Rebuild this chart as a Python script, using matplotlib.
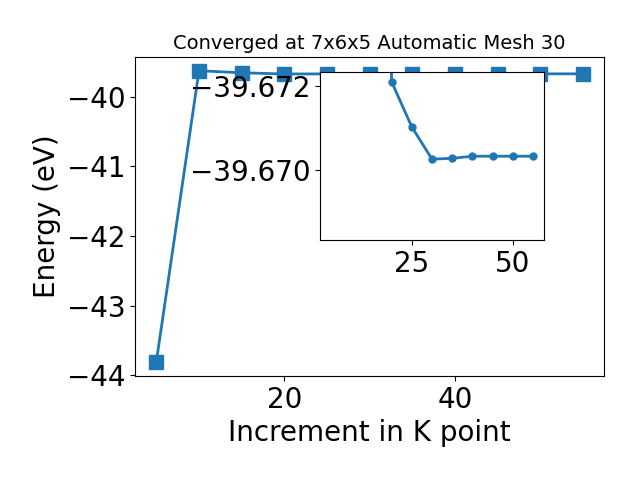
import matplotlib
matplotlib.use("Agg")
import matplotlib.pyplot as plt

# k-point increments and total energies (main panel)
kpoints = [5, 10, 15, 20, 25, 30, 35, 40, 45, 50, 55]
energy = [-43.80, -39.625, -39.655, -39.672, -39.671, -39.670,
          -39.670, -39.670, -39.670, -39.670, -39.670]

# values (first one lies off the top)
inset_kpoints = [15, 20, 25, 30, 35, 40, 45, 50, 55]
inset_energy = [-39.70, -39.67211, -39.67103, -39.67026, -39.67028,
                -39.67033, -39.67033, -39.67033, -39.67033]

# zoom window for the inset (kept as drawn: top value is more negative)
inset_ylim = (-39.66833, -39.67234)
inset_xlim = (2.3, 57.7)

title = "Converged at 7x6x5 Automatic Mesh 30"

fig = plt.figure(figsize=(6.4, 4.8), dpi=100)
ax = fig.add_axes([0.211, 0.217, 0.733, 0.664])
ax.plot(kpoints, energy, marker="s", markersize=10, linewidth=2, color="#1f77b4")
ax.set_ylim(-44.005, -39.43)
ax.set_xlabel("Increment in K point", fontsize=20)
ax.set_ylabel("Energy (eV)", fontsize=20)
ax.set_title(title, fontsize=14)
ax.tick_params(labelsize=20)

# inset zoom on the converged region
axins = fig.add_axes([0.5, 0.5, 0.35, 0.35])
axins.plot(inset_kpoints, inset_energy, marker="o", markersize=5,
           linewidth=2, color="#1f77b4")
axins.set_xlim(*inset_xlim)
axins.set_ylim(*inset_ylim)
axins.tick_params(labelsize=20)
axins.ticklabel_format(axis="y", useOffset=False)

plt.savefig("out.png", dpi=100)
